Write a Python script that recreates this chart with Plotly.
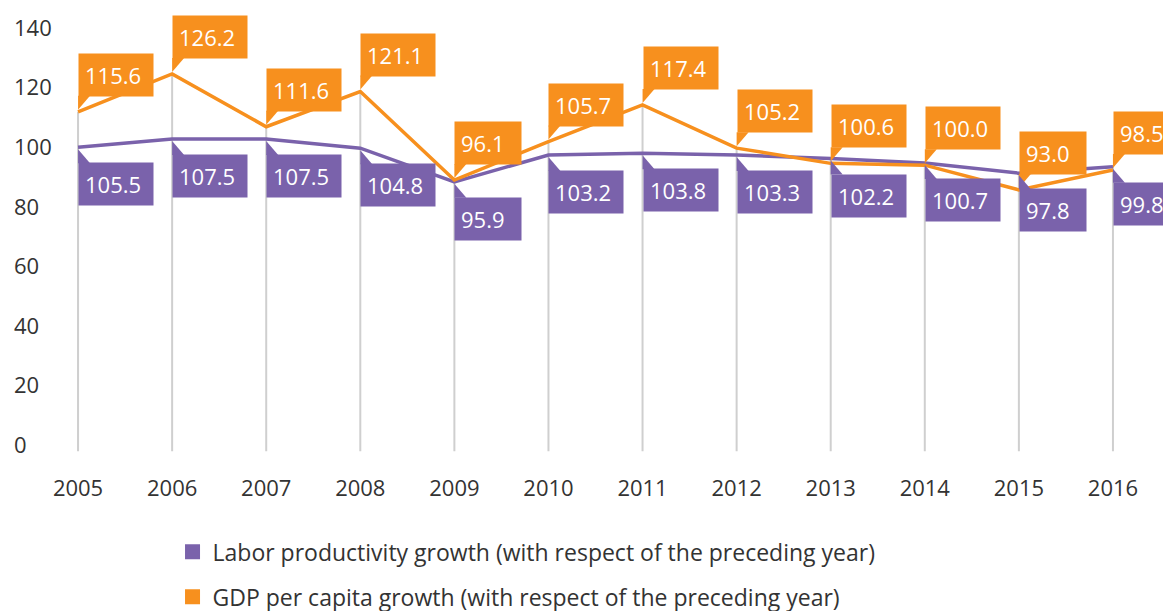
import plotly.graph_objects as go

# ---------------- data ----------------
years = list(range(2005, 2017))
labor_line = [99.6, 102.4, 102.4, 99.3, 88.0, 97.0, 97.6, 97.0, 95.8, 94.3, 90.9, 93.1]
gdp_line = [111.5, 124.2, 106.5, 118.3, 88.6, 101.5, 113.8, 99.3, 94.2, 93.6, 85.3, 92.0]
labor_labels = ["105.5", "107.5", "107.5", "104.8", "95.9", "103.2", "103.8", "103.3",
                "102.2", "100.7", "97.8", "99.8"]
gdp_labels = ["115.6", "126.2", "111.6", "121.1", "96.1", "105.7", "117.4", "105.2",
              "100.6", "100.0", "93.0", "98.5"]
y_ticks = [0, 20, 40, 60, 80, 100, 120, 140]
labor_name = "Labor productivity growth (with respect of the preceding year)"
gdp_name = "GDP per capita growth (with respect of the preceding year)"

# ---------------- style ----------------
PURPLE = "#7A62AB"
ORANGE = "#F7901E"
GRAY = "#CFCFCF"
TEXT = "#333333"
FONT = "Open Sans"

fig = go.Figure()

# drop lines from axis to highest point
drop_x, drop_y = [], []
for yr, a, b in zip(years, labor_line, gdp_line):
    drop_x += [yr, yr, None]
    drop_y += [-2.4, max(a, b), None]
fig.add_trace(go.Scatter(x=drop_x, y=drop_y, mode="lines",
                         line=dict(color=GRAY, width=2), showlegend=False,
                         hoverinfo="skip"))

fig.add_trace(go.Scatter(x=years, y=labor_line, mode="lines",
                         line=dict(color=PURPLE, width=3.5), showlegend=False))
fig.add_trace(go.Scatter(x=years, y=gdp_line, mode="lines",
                         line=dict(color=ORANGE, width=3.5), showlegend=False))

# legend entries (square markers)
fig.add_trace(go.Scatter(x=[None], y=[None], mode="markers", name=labor_name,
                         legendgroup="a",
                         marker=dict(symbol="square", size=15, color=PURPLE)))
fig.add_trace(go.Scatter(x=[None], y=[None], mode="markers", name=gdp_name,
                         legendgroup="b",
                         marker=dict(symbol="square", size=15, color=ORANGE)))

annotations = []
shapes = []


def box_width(txt):
    return 62 if len(txt) >= 5 else 54


for yr, v, t in zip(years, gdp_line, gdp_labels):
    annotations.append(dict(x=yr, y=v, xref="x", yref="y", text=t, showarrow=False,
                            xanchor="left", yanchor="bottom", yshift=15,
                            bgcolor=ORANGE, borderpad=6, width=box_width(t),
                            align="left",
                            font=dict(family=FONT, size=22, color="white")))
    shapes.append(dict(type="path", xref="x", yref="y",
                       xsizemode="pixel", ysizemode="pixel",
                       xanchor=yr, yanchor=v,
                       path="M 0,2 L 0,16 L 12,16 Z",
                       fillcolor=ORANGE, line=dict(width=0)))

for yr, v, t in zip(years, labor_line, labor_labels):
    annotations.append(dict(x=yr, y=v, xref="x", yref="y", text=t, showarrow=False,
                            xanchor="left", yanchor="top", yshift=-15,
                            bgcolor=PURPLE, borderpad=6, width=box_width(t),
                            align="left",
                            font=dict(family=FONT, size=22, color="white")))
    shapes.append(dict(type="path", xref="x", yref="y",
                       xsizemode="pixel", ysizemode="pixel",
                       xanchor=yr, yanchor=v,
                       path="M 0,-2 L 0,-16 L 12,-16 Z",
                       fillcolor=PURPLE, line=dict(width=0)))

# y tick labels, left aligned
for tv in y_ticks:
    annotations.append(dict(x=0, y=tv, xref="paper", yref="y", text=str(tv),
                            showarrow=False, xanchor="left", yanchor="middle",
                            xshift=-19,
                            font=dict(family=FONT, size=22, color=TEXT)))

fig.update_layout(
    width=1171, height=611,
    margin=dict(l=23, r=19, t=4, b=166, autoexpand=False),
    paper_bgcolor="white", plot_bgcolor="white",
    font=dict(family=FONT, size=22, color=TEXT),
    xaxis=dict(range=[2004.5, 2016.5], tickmode="array", tickvals=years,
               ticktext=[str(y) for y in years], showgrid=False, zeroline=False,
               showline=False, ticks="", ticklabelstandoff=20, tickangle=0,
               automargin=False,
               tickfont=dict(family=FONT, size=22, color=TEXT)),
    yaxis=dict(range=[-3, 145], showgrid=False, zeroline=False, showline=False,
               showticklabels=False, ticks="", automargin=False),
    showlegend=True,
    legend=dict(orientation="v", xref="container", yref="container",
                x=0.1405, y=0.145, xanchor="left", yanchor="top",
                traceorder="grouped", tracegroupgap=12,
                font=dict(family=FONT, size=23, color=TEXT),
                bgcolor="rgba(0,0,0,0)"),
    annotations=annotations,
    shapes=shapes,
)

fig.write_html("out.html")
